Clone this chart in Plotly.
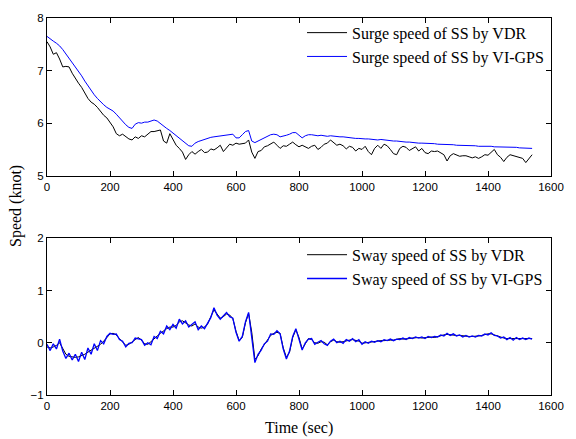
import plotly.graph_objects as go

time_sec = list(range(0, 1550, 10))

surge_vdr = [7.55, 7.45, 7.31, 7.34, 7.22, 7.07, 7.08, 7.07, 6.95, 6.85,
             6.76, 6.68, 6.56, 6.47, 6.40, 6.36, 6.30, 6.22, 6.15, 6.10,
             6.02, 5.93, 5.80, 5.76, 5.79, 5.74, 5.70, 5.68, 5.74, 5.71,
             5.76, 5.74, 5.80, 5.84, 5.84, 5.86, 5.87, 5.66, 5.62, 5.80,
             5.70, 5.58, 5.52, 5.45, 5.31, 5.40, 5.46, 5.41, 5.46, 5.50,
             5.44, 5.45, 5.51, 5.49, 5.53, 5.58, 5.46, 5.52, 5.60, 5.58,
             5.62, 5.60, 5.61, 5.62, 5.68, 5.45, 5.33, 5.46, 5.48, 5.55,
             5.57, 5.60, 5.64, 5.58, 5.52, 5.57, 5.56, 5.60, 5.64, 5.59,
             5.55, 5.58, 5.55, 5.52, 5.56, 5.58, 5.50, 5.54, 5.60, 5.62,
             5.68, 5.62, 5.58, 5.60, 5.57, 5.51, 5.56, 5.54, 5.47, 5.52,
             5.50, 5.56, 5.46, 5.40, 5.52, 5.58, 5.52, 5.60, 5.57, 5.50,
             5.42, 5.40, 5.52, 5.56, 5.54, 5.48, 5.52, 5.55, 5.47, 5.52,
             5.44, 5.42, 5.47, 5.46, 5.47, 5.43, 5.40, 5.28, 5.38, 5.42,
             5.40, 5.37, 5.38, 5.38, 5.36, 5.34, 5.36, 5.33, 5.36, 5.40,
             5.39, 5.45, 5.50, 5.40, 5.35, 5.27, 5.35, 5.40, 5.38, 5.36,
             5.35, 5.33, 5.25, 5.32, 5.40]

surge_gps = [7.65, 7.60, 7.56, 7.52, 7.47, 7.40, 7.32, 7.24, 7.16, 7.08,
             7.00, 6.90, 6.80, 6.71, 6.62, 6.54, 6.47, 6.40, 6.35, 6.30,
             6.27, 6.23, 6.17, 6.10, 6.03, 5.97, 5.92, 5.90, 5.98, 6.01,
             6.00, 6.02, 6.02, 6.04, 6.06, 6.04, 5.99, 5.94, 5.90, 5.86,
             5.81, 5.76, 5.71, 5.66, 5.61, 5.57, 5.56, 5.62, 5.65, 5.67,
             5.70, 5.71, 5.73, 5.74, 5.75, 5.76, 5.77, 5.78, 5.78, 5.79,
             5.72, 5.72, 5.78, 5.84, 5.86, 5.66, 5.63, 5.66, 5.69, 5.72,
             5.75, 5.78, 5.79, 5.78, 5.74, 5.75, 5.77, 5.79, 5.82, 5.82,
             5.76, 5.72, 5.76, 5.78, 5.78, 5.77, 5.76, 5.77, 5.76, 5.75,
             5.76, 5.75, 5.75, 5.74, 5.74, 5.73, 5.72, 5.72, 5.71, 5.71,
             5.70, 5.70, 5.70, 5.69, 5.69, 5.68, 5.69, 5.68, 5.67, 5.67,
             5.66, 5.66, 5.65, 5.65, 5.64, 5.64, 5.63, 5.63, 5.62, 5.62,
             5.62, 5.61, 5.61, 5.61, 5.60, 5.60, 5.59, 5.59, 5.60, 5.59,
             5.58, 5.58, 5.58, 5.57, 5.57, 5.58, 5.57, 5.56, 5.56, 5.57,
             5.56, 5.56, 5.55, 5.55, 5.55, 5.54, 5.55, 5.54, 5.54, 5.54,
             5.53, 5.53, 5.53, 5.52, 5.52]

sway_vdr = [-0.08, -0.10, -0.08, -0.05, 0.00, -0.10, -0.22, -0.26, -0.27, -0.28,
            -0.27, -0.25, -0.22, -0.18, -0.14, -0.10, -0.07, -0.03, 0.03, 0.10,
            0.17, 0.18, 0.15, 0.08, 0.01, -0.05, -0.03, 0.02, 0.06, 0.10,
            0.05, -0.02, -0.03, 0.02, 0.08, 0.13, 0.18, 0.23, 0.27, 0.30,
            0.30, 0.33, 0.40, 0.42, 0.38, 0.34, 0.32, 0.36, 0.30, 0.28,
            0.30, 0.36, 0.50, 0.63, 0.55, 0.47, 0.50, 0.55, 0.53, 0.46,
            0.22, 0.04, 0.10, 0.38, 0.56, 0.20, -0.32, -0.25, -0.12, -0.04,
            0.05, 0.14, 0.18, 0.20, 0.18, -0.10, -0.28, -0.18, 0.10, 0.25,
            0.10, -0.12, -0.02, 0.08, 0.06, 0.00, -0.01, 0.02, 0.01, -0.04,
            0.02, 0.05, 0.02, 0.01, 0.02, 0.04, 0.05, 0.06, 0.04, 0.03,
            -0.01, 0.00, 0.01, 0.02, 0.02, 0.03, 0.04, 0.04, 0.05, 0.05,
            0.05, 0.06, 0.08, 0.07, 0.07, 0.08, 0.09, 0.10, 0.10, 0.09,
            0.10, 0.10, 0.11, 0.10, 0.12, 0.13, 0.15, 0.16, 0.15, 0.15,
            0.14, 0.14, 0.13, 0.12, 0.12, 0.12, 0.12, 0.13, 0.14, 0.16,
            0.17, 0.17, 0.15, 0.12, 0.10, 0.09, 0.08, 0.08, 0.07, 0.08,
            0.07, 0.07, 0.08, 0.08, 0.08]

sway_gps = [-0.03, -0.15, -0.02, -0.12, 0.07, -0.16, -0.30, -0.20, -0.33, -0.22,
            -0.36, -0.18, -0.32, -0.10, -0.22, -0.02, -0.15, 0.04, -0.02, 0.12,
            0.18, 0.16, 0.17, 0.06, 0.03, -0.08, -0.01, 0.00, 0.09, 0.07,
            0.06, -0.05, 0.00, -0.04, 0.12, 0.08, 0.22, 0.17, 0.32, 0.25,
            0.35, 0.28, 0.45, 0.36, 0.42, 0.30, 0.36, 0.40, 0.25, 0.32,
            0.27, 0.38, 0.48, 0.67, 0.53, 0.45, 0.52, 0.58, 0.50, 0.47,
            0.20, 0.03, 0.12, 0.40, 0.58, 0.15, -0.38, -0.22, -0.14, -0.02,
            0.03, 0.17, 0.16, 0.23, 0.17, -0.12, -0.31, -0.16, 0.12, 0.27,
            0.08, -0.14, 0.00, 0.07, 0.08, -0.03, 0.01, 0.04, -0.02, -0.05,
            0.03, 0.07, 0.00, 0.03, -0.01, 0.06, 0.03, 0.08, 0.02, 0.06,
            -0.03, 0.02, -0.01, 0.03, 0.01, 0.04, 0.02, 0.06, 0.04, 0.07,
            0.04, 0.07, 0.06, 0.09, 0.06, 0.10, 0.08, 0.11, 0.09, 0.11,
            0.08, 0.12, 0.10, 0.12, 0.11, 0.15, 0.13, 0.18, 0.14, 0.17,
            0.13, 0.15, 0.11, 0.14, 0.11, 0.13, 0.11, 0.14, 0.13, 0.17,
            0.15, 0.19, 0.14, 0.13, 0.09, 0.11, 0.06, 0.10, 0.05, 0.10,
            0.06, 0.09, 0.06, 0.09, 0.07]

x_ticks = [0, 200, 400, 600, 800, 1000, 1200, 1400, 1600]
surge_ticks = [5, 6, 7, 8]
sway_ticks = [-1, 0, 1, 2]

serif = "Liberation Serif, Times New Roman, serif"
sans = "Liberation Sans, Arial, sans-serif"

fig = go.Figure()
fig.add_trace(go.Scatter(x=time_sec, y=surge_vdr, mode="lines", name="Surge speed of SS by VDR",
                         line=dict(color="black", width=1), xaxis="x", yaxis="y", legend="legend"))
fig.add_trace(go.Scatter(x=time_sec, y=surge_gps, mode="lines", name="Surge speed of SS by VI-GPS",
                         line=dict(color="#0000ff", width=1), xaxis="x", yaxis="y", legend="legend"))
fig.add_trace(go.Scatter(x=time_sec, y=sway_vdr, mode="lines", name="Sway speed of SS by VDR",
                         line=dict(color="black", width=1), xaxis="x2", yaxis="y2", legend="legend2"))
fig.add_trace(go.Scatter(x=time_sec, y=sway_gps, mode="lines", name="Sway speed of SS by VI-GPS",
                         line=dict(color="#0000ff", width=1.3), xaxis="x2", yaxis="y2", legend="legend2"))

axis_common = dict(showgrid=False, zeroline=False, showline=True, linecolor="black", linewidth=1,
                   mirror="ticks", ticks="inside", ticklen=5, tickcolor="black",
                   tickfont=dict(family=sans, size=11.5, color="black"))

legend_common = dict(xanchor="left", yanchor="top", bgcolor="rgba(0,0,0,0)",
                     font=dict(family=serif, size=16, color="black"), tracegroupgap=0, itemwidth=40)

fig.update_layout(
    width=576, height=439,
    margin=dict(l=47, r=17, t=15, b=44),
    paper_bgcolor="white", plot_bgcolor="white",
    showlegend=True,
    xaxis=dict(domain=[0, 1], range=[0, 1600], tickvals=x_ticks, anchor="y", **axis_common),
    yaxis=dict(domain=[0.5816, 1], range=[5, 8], tickvals=surge_ticks, anchor="x", **axis_common),
    xaxis2=dict(domain=[0, 1], range=[0, 1600], tickvals=x_ticks, anchor="y2", **axis_common),
    yaxis2=dict(domain=[0, 0.4158], range=[-1, 2], tickvals=sway_ticks, anchor="x2", **axis_common),
    legend=dict(x=0.506, y=1.006, **legend_common),
    legend2=dict(x=0.506, y=0.417, **legend_common),
    annotations=[
        dict(text="Speed (knot)", x=-0.0625, xref="paper", xanchor="center", y=0.5, yref="paper",
             yanchor="middle", showarrow=False, textangle=-90,
             font=dict(family=serif, size=16, color="black")),
        dict(text="Time (sec)", x=0.5, xref="paper", xanchor="center", y=-0.0868, yref="paper",
             yanchor="middle", showarrow=False, font=dict(family=serif, size=16, color="black")),
    ],
)

fig.write_html("out.html", config={"displayModeBar": False},
               post_script="document.body.style.margin='0';document.body.style.overflow='hidden';")
